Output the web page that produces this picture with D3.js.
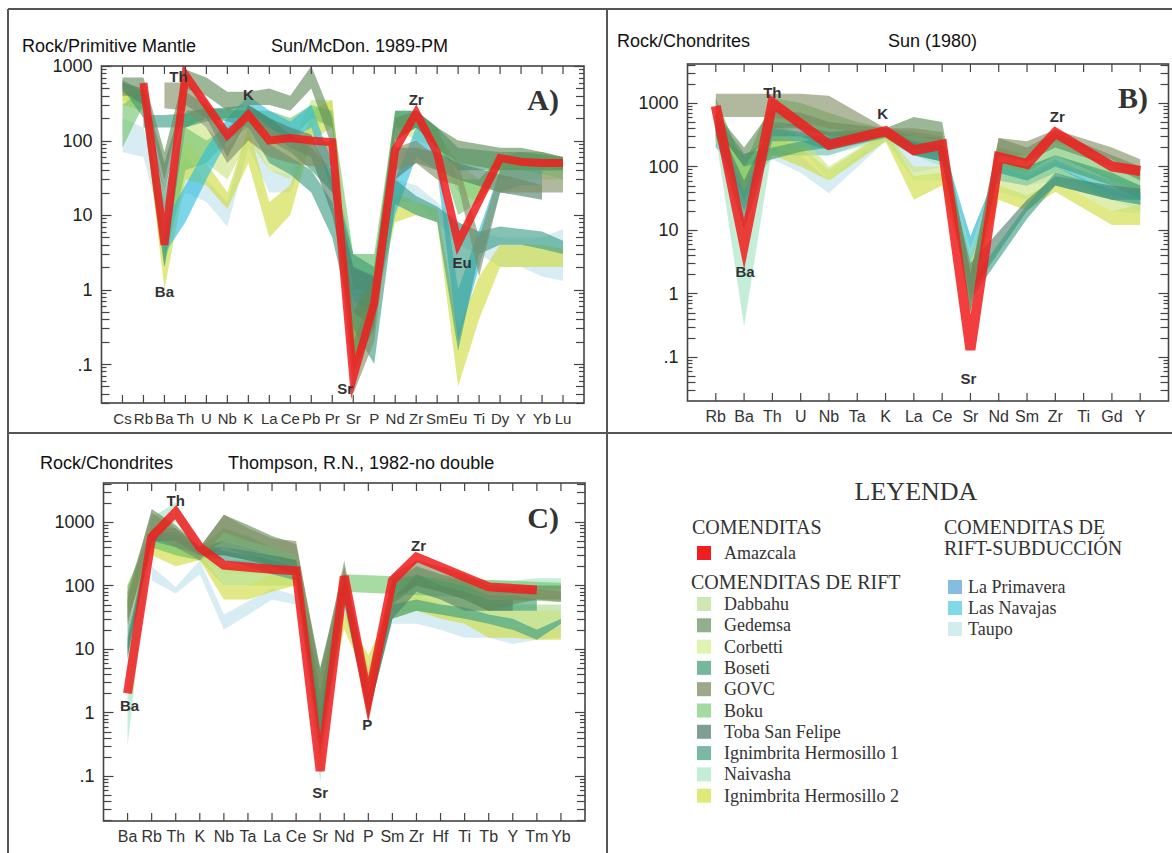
<!DOCTYPE html>
<html>
<head>
<meta charset="utf-8">
<script src="https://cdn.jsdelivr.net/npm/d3@7"></script>
<style>
  body { margin: 0; background: #fff; }
  svg { display: block; }
</style>
</head>
<body>
<svg id="chart" width="1172" height="853"></svg>
<script>
const _ = null; // element not plotted for that group

const groupNames = ["Dabbahu", "Gedemsa", "Corbetti", "Boseti", "GOVC", "Boku", "Toba San Felipe",
  "Ignimbrita Hermosillo 1", "Naivasha", "Ignimbrita Hermosillo 2", "La Primavera", "Las Navajas", "Taupo"];
const swatchColors = ["#cde8b2", "#8fb08a", "#def5b2", "#76b89c", "#9ca888", "#a3dca0", "#7d9e90",
  "#7ab8a8", "#c3eed6", "#dfe878", "#85bde0", "#80d8ea", "#d2ecf0"];
const bandColors = ["#a8d88a", "#5f8a58", "#c8e480", "#3f9c70", "#7f8c62", "#72c46c", "#4f8068",
  "#3a9c84", "#a2e4c0", "#cfdc3c", "#5aa2d0", "#2cbcdc", "#bee2ec"];
const amazcalaColor = "#f01e1e";

// ---- A) Sun/McDon. 1989 primitive mantle
const elementsA = ["Cs", "Rb", "Ba", "Th", "U", "Nb", "K", "La", "Ce", "Pb", "Pr", "Sr", "P", "Nd", "Zr", "Sm", "Eu", "Ti", "Dy", "Y", "Yb", "Lu"];
const amazcalaA = [_, 590, 4, 760, _, 118, 220, 100, 108, 100, 95, 0.067, 0.66, 75, 235, 68, 4.2, _, 58, 52, 50, 50];
const bandsA = [
  [12, [70, 60, 5, 20, 15, 7, 80, 20, 20, 100, 30, 1, 1, 15, 15, 8, 4, 3, 2, 2, 1.5, 1.3],
       [200, 150, 15, 60, 30, 15, 150, 40, 35, 200, 60, 3, 3, 30, 25, 15, 8, 6, 5, 5, 5, 6.5]],
  [2, [350, 300, 2, 100, 50, 30, 100, 40, 30, 150, 200, 0.1, 0.5, 150, 100, 80, 20, 15, 30, 30, 30, 30],
      [500, 450, 4, 250, 150, 80, 200, 100, 80, 350, 350, 0.5, 2, 250, 200, 130, 50, 30, 60, 60, 60, 60]],
  [9, [300, 250, 1, 30, 25, 12, 50, 5, 10, 100, 150, 0.1, 0.5, 8, 10, 8, 0.05, 0.4, 2, 2, 2, 2],
      [450, 400, 2.5, 100, 50, 20, 150, 15, 25, 250, 350, 0.5, 1.5, 20, 15, 12, 0.3, 1.5, 4, 4, 4, 3.5]],
  [5, [80, 300, 2, 40, 50, 100, 150, 150, 100, 200, 150, 1, 1, 150, 150, 80, 10, 15, 40, 40, 40, 40],
      [300, 500, 5, 150, 100, 150, 250, 250, 200, 300, 250, 3, 3, 250, 250, 150, 30, 30, 60, 70, 70, 60]],
  [11, [_, _, 3, 8, 30, 100, 250, 150, 100, 150, 20, 0.7, 0.5, 10, 60, 40, 0.2, _, 20, 25, 25, _],
       [_, _, 8, 25, 80, 200, 400, 250, 180, 300, 50, 2, 1.5, 30, 150, 80, 1, _, 40, 40, 40, _]],
  [7, [_, 150, 150, 150, 200, 180, 150, 50, 35, 20, 5, 0.3, 0.1, 14, 10, 8, 0.15, 3, 4, 4, 3.5, 3],
      [_, 220, 220, 230, 280, 260, 250, 90, 60, 40, 15, 1, 0.5, 30, 18, 13, 8, 6, 7, 6.5, 6, 4.5]],
  [3, [500, 200, 2, 150, 180, 200, 200, 100, 70, 40, 20, 1, 0.5, 100, 150, 80, 40, _, 40, 40, 40, 40],
      [650, 450, 20, 250, 260, 280, 300, 200, 120, 80, 40, 3, 2, 250, 250, 150, 80, _, 70, 70, 65, 60]],
  [6, [450, 300, 20, 300, 200, 60, 200, 120, 80, 60, 10, 0.5, 0.3, 30, 50, 40, 30, _, 20, 18, 16, _],
      [600, 500, 50, 450, 300, 100, 300, 200, 150, 120, 30, 2, 1.5, 80, 80, 70, 50, _, 35, 30, 25, _]],
  [4, [_, _, 270, 250, 150, 50, 100, 60, 50, 45, 45, 0.04, 0.2, 40, 50, 30, 25, 1.5, 20, 20, 20, 20],
      [_, _, 600, 600, 350, 120, 250, 150, 100, 90, 100, 0.2, 1, 80, 100, 60, 50, 5, 40, 40, 35, 30]],
  [1, [400, 400, 30, 500, 400, 250, 300, 300, 250, 500, 80, 0.08, 0.3, 100, 150, 80, 50, _, 40, 40, 35, 30],
      [700, 700, 70, 900, 700, 450, 450, 500, 400, 1000, 200, 0.5, 1.5, 200, 250, 150, 100, _, 80, 80, 70, 60]]
];
const tagsA = [["Th", 730, -7], ["K", 410, 0], ["Zr", 350, 0], ["Ba", 0.95, 0], ["Sr", 0.047, -8], ["Eu", 2.27, 4]];

// ---- B) Sun (1980) chondrites
const elementsB = ["Rb", "Ba", "Th", "U", "Nb", "Ta", "K", "La", "Ce", "Sr", "Nd", "Sm", "Zr", "Ti", "Gd", "Y"];
const amazcalaB = [900, 6, 1000, _, 220, _, 360, 180, 220, 0.13, 140, 110, 340, _, 100, 85];
const bandsB = [
  [12, [200, 50, 130, 80, 38, _, 250, 80, 100, 2, 60, 50, 60, _, 30, 20],
       [400, 150, 250, 150, 60, _, 350, 150, 150, 8, 100, 80, 100, _, 50, 40]],
  [10, [250, 30, 150, 150, 150, _, 300, 150, 150, 1, 60, 50, 80, _, 40, 25],
       [500, 80, 300, 250, 220, _, 400, 250, 220, 4, 100, 70, 120, _, 60, 40]],
  [11, [200, 80, 200, 200, 200, _, 300, 150, 150, 3, 60, 50, 80, _, 30, 25],
       [350, 150, 300, 300, 300, _, 400, 250, 250, 8, 100, 80, 130, _, 50, 35]],
  [8, [300, 0.3, 200, 150, 150, 200, 250, 150, 100, 1, 80, 60, 100, _, 40, 30],
      [1200, 100, 400, 300, 250, 300, 350, 250, 200, 5, 120, 100, 150, _, 70, 50]],
  [9, [250, 40, 150, 100, 60, _, 250, 30, 50, 1, 30, 20, 40, _, 12, 12],
      [400, 90, 400, 200, 90, _, 350, 70, 80, 3, 50, 35, 60, _, 20, 25]],
  [2, [300, 50, 300, 200, 60, _, 250, 60, 60, 1, 40, 30, 60, _, 20, 18],
      [500, 100, 500, 300, 100, _, 350, 100, 100, 3, 80, 60, 100, _, 35, 30]],
  [5, [300, 30, 500, 400, 300, 300, 300, 200, 150, 0.5, 100, 80, 150, _, 60, 40],
      [1200, 100, 1200, 1000, 700, 500, 400, 350, 300, 2, 200, 150, 300, _, 100, 80]],
  [3, [400, 100, 130, 170, 200, 250, 300, 200, 180, 0.8, 80, 60, 100, _, 50, 30],
      [650, 160, 200, 250, 280, 320, 400, 300, 280, 2, 120, 100, 150, _, 80, 50]],
  [6, [350, 20, 300, 300, 200, _, 300, 150, 120, 1, _, 20, 50, _, 30, 30],
      [550, 60, 500, 450, 350, _, 400, 250, 200, 3, _, 30, 70, _, 50, 45]],
  [7, [300, 10, 250, 250, 180, _, 280, 150, 120, 0.8, _, 15, 50, _, 30, 25],
      [500, 40, 400, 350, 260, _, 380, 250, 200, 1.5, _, 25, 80, _, 45, 40]],
  [1, [400, 100, 400, 400, 300, _, 300, 300, 250, 0.5, 150, 120, 200, _, 100, 60],
      [700, 200, 800, 700, 500, _, 400, 600, 500, 2, 280, 200, 350, _, 150, 100]],
  [4, [600, 600, 600, 500, 400, _, 300, 250, 200, 0.5, 150, 150, 250, _, 130, 70],
      [1400, 1400, 1400, 1400, 1300, _, 400, 400, 350, 2, 280, 250, 380, _, 200, 130]]
];
const tagsB = [["Th", 1470, 0], ["K", 670, -3], ["Zr", 616, 2], ["Ba", 2.2, 1], ["Sr", 0.046, -2]];

// ---- C) Thompson, R.N., 1982 chondrites
const elementsC = ["Ba", "Rb", "Th", "K", "Nb", "Ta", "La", "Ce", "Sr", "Nd", "P", "Sm", "Zr", "Hf", "Ti", "Tb", "Y", "Tm", "Yb"];
const amazcalaC = [2, 580, 1430, 400, 210, _, 180, 170, 0.12, 140, 1.6, 120, 280, _, _, 95, 90, 85, _];
const bandsC = [
  [12, [_, 120, 75, 150, 20, _, 60, 50, 1, 40, 1, 25, 25, 20, 15, 15, 12, 14, 15],
       [_, 200, 95, 250, 35, _, 90, 70, 5, 80, 3, 40, 45, 35, 30, 25, 22, 22, 22]],
  [8, [0.3, 600, 1000, 300, 150, 150, 150, 150, 0.08, 100, 1, 50, 100, 80, 80, 70, 80, 90, 90],
      [10, 1200, 2000, 450, 250, 250, 200, 200, 2, 200, 3, 100, 200, 150, 130, 120, 120, 130, 130]],
  [0, [50, 400, 300, 250, 100, 100, 100, 100, 0.5, 60, 2, 40, 40, 35, 30, 25, 25, 20, 20],
      [100, 700, 500, 350, 200, 200, 200, 150, 3, 120, 5, 70, 80, 70, 60, 50, 50, 50, 50]],
  [9, [30, 300, 200, 250, 60, 60, 80, 100, 0.5, 20, 3, 30, 40, 30, 25, 15, 15, 14, 14],
      [60, 500, 400, 350, 100, 100, 150, 150, 3, 40, 8, 50, 70, 50, 40, 25, 25, 20, 20]],
  [2, [40, 400, 300, 300, 100, 100, 100, 100, 1, 50, 2, 50, 50, 40, 30, 25, 20, 20, 20],
      [100, 600, 500, 400, 200, 200, 200, 200, 3, 100, 5, 100, 100, 80, 60, 50, 40, 40, 40]],
  [5, [30, 400, 300, 250, 400, 300, 200, 150, 1, 80, _, _, _, _, _, _, _, _, 55],
      [100, 800, 600, 400, 800, 600, 400, 300, 5, 150, _, _, _, _, _, _, _, _, 110]],
  [7, [7, 500, 500, 300, 250, 200, 150, 120, 0.2, 50, 0.9, 30, 40, 35, 30, 25, 20, 14, 25],
      [12, 700, 700, 400, 350, 300, 250, 200, 1, 100, 1.5, 50, 60, 50, 45, 35, 30, 20, 30]],
  [3, [10, 500, 400, 300, 300, 250, 200, 150, 0.5, 80, 1, 60, 100, 80, 60, 40, 40, 40, _],
      [20, 700, 600, 400, 400, 350, 300, 250, 2, 150, 2, 120, 150, 120, 100, 70, 70, 60, _]],
  [6, [8, 500, 500, 300, 300, 250, 200, 150, 0.3, 60, 0.9, 30, 80, 60, 40, 40, 40, _, _],
      [15, 800, 800, 400, 500, 400, 300, 250, 2, 150, 2, 60, 150, 100, 80, 60, 60, _, _]],
  [1, [20, 800, 500, 300, 500, 400, 300, 200, 0.5, 100, 0.8, 50, 100, 80, 60, 40, 50, 60, 60],
      [60, 1600, 900, 400, 1300, 900, 600, 450, 5, 200, 3, 120, 200, 150, 120, 80, 100, 100, 100]],
  [4, [25, 600, 400, 250, 700, 500, 400, 300, 1, 150, 0.8, 100, 150, 120, 100, 60, 60, 60, 55],
      [80, 1400, 800, 400, 1300, 800, 550, 500, 4, 250, 2, 150, 250, 200, 150, 100, 90, 90, 80]]
];
const tagsC = [["Th", 2140, 0], ["Zr", 430, 2], ["Ba", 1.3, 2], ["Sr", 0.055, 0], ["P", 0.64, -1]];

const tickValues = [0.1, 1, 10, 100, 1000];
const tickLabels = [".1", "1", "10", "100", "1000"];

const svg = d3.select("#chart");
const sans = "'Liberation Sans', Arial, sans-serif";
const serif = "'Liberation Serif', 'Times New Roman', serif";

function drawPanel(p, elements, bands, amazcala, tags) {
  const g = svg.append("g");
  const x = d3.scalePoint().domain(elements).range([p.left, p.right]).padding(1);
  const y = d3.scaleLog().domain([p.yMin, p.yMax]).range([p.bottom, p.top]);

  g.append("clipPath").attr("id", p.id)
    .append("rect")
    .attr("x", p.left).attr("y", p.top)
    .attr("width", p.right - p.left).attr("height", p.bottom - p.top);

  const plot = g.append("g").attr("clip-path", `url(#${p.id})`);

  const area = d3.area().x((d) => x(d.e)).y0((d) => y(d.lo)).y1((d) => y(d.hi));
  bands.forEach(([gi, lo, hi]) => {
    const pts = elements.map((e, i) => ({ e, lo: lo[i], hi: hi[i] })).filter((d) => d.lo !== null);
    plot.append("path")
      .attr("class", "band")
      .attr("d", area(pts))
      .attr("fill", bandColors[gi])
      .attr("fill-opacity", 0.62);
  });

  // element tags inside the plot
  g.selectAll("text.tag")
    .data(tags)
    .enter()
    .append("text")
    .attr("class", "tag")
    .attr("x", (d) => x(d[0]) + d[2])
    .attr("y", (d) => y(d[1]))
    .attr("dy", "0.36em")
    .attr("text-anchor", "middle")
    .attr("font-family", sans)
    .attr("font-weight", "bold")
    .attr("font-size", 15)
    .attr("fill", "#333")
    .text((d) => d[0]);

  const pts = elements.map((e, i) => ({ e, v: amazcala[i] })).filter((d) => d.v !== null);
  plot.append("path")
    .attr("d", d3.line().x((d) => x(d.e)).y((d) => y(d.v))(pts))
    .attr("fill", "none")
    .attr("stroke", amazcalaColor)
    .attr("stroke-opacity", 0.86)
    .attr("stroke-width", p.lineWidth)
    .attr("stroke-linejoin", "miter")
    .attr("stroke-miterlimit", 6);

  // log ticks on left and right sides
  const minor = [];
  for (let e = -2; e <= 3; e++) {
    for (let m = 1; m <= 9; m++) {
      const v = m * Math.pow(10, e);
      if (v >= p.yMin && v <= p.yMax) minor.push({ v, len: m === 1 ? 10 : m <= 5 ? 8 : 5 });
    }
  }
  const tk = g.append("g").attr("stroke", "#444").attr("stroke-width", 1.2);
  minor.forEach((t) => {
    const yy = Math.round(y(t.v)) + 0.5;
    tk.append("line").attr("x1", p.left).attr("x2", p.left + t.len).attr("y1", yy).attr("y2", yy);
    tk.append("line").attr("x1", p.right).attr("x2", p.right - t.len).attr("y1", yy).attr("y2", yy);
  });
  elements.forEach((e) => {
    const xx = x(e);
    tk.append("line").attr("x1", xx).attr("x2", xx).attr("y1", p.top).attr("y2", p.top + 8);
    tk.append("line").attr("x1", xx).attr("x2", xx).attr("y1", p.bottom).attr("y2", p.bottom - 8);
  });

  g.append("rect")
    .attr("x", p.left).attr("y", p.top)
    .attr("width", p.right - p.left).attr("height", p.bottom - p.top)
    .attr("fill", "none").attr("stroke", "#444").attr("stroke-width", 1.6);

  g.selectAll("text.ylab")
    .data(tickValues)
    .enter()
    .append("text")
    .attr("class", "ylab")
    .attr("x", p.left - 9)
    .attr("y", (d) => y(d))
    .attr("dy", "0.36em")
    .attr("text-anchor", "end")
    .attr("font-family", sans)
    .attr("font-size", 18)
    .attr("fill", "#222")
    .text((d, i) => tickLabels[i]);

  g.selectAll("text.xlab")
    .data(elements)
    .enter()
    .append("text")
    .attr("class", "xlab")
    .attr("x", (d) => x(d))
    .attr("y", p.bottom + 21)
    .attr("text-anchor", "middle")
    .attr("font-family", sans)
    .attr("font-size", p.xFont)
    .attr("fill", "#333")
    .text((d) => d);

  g.append("text").attr("x", p.titleX).attr("y", p.titleY)
    .attr("font-family", sans).attr("font-size", 18).attr("fill", "#111").text(p.yTitle);
  g.append("text").attr("x", p.refX).attr("y", p.titleY)
    .attr("font-family", sans).attr("font-size", 18).attr("fill", "#111").text(p.refTitle);
  g.append("text").attr("x", p.letterX).attr("y", p.letterY)
    .attr("text-anchor", "end")
    .attr("font-family", serif).attr("font-weight", "bold").attr("font-size", 30)
    .attr("fill", "#333").text(p.letter);
}

drawPanel({ id: "clipA", left: 101.5, right: 584, top: 66, bottom: 403, yMin: Math.pow(10, -1.523), yMax: 1000,
  lineWidth: 8, xFont: 15, yTitle: "Rock/Primitive Mantle", refTitle: "Sun/McDon. 1989-PM", titleX: 22, refX: 271, titleY: 52,
  letter: "A)", letterX: 559, letterY: 110 }, elementsA, bandsA, amazcalaA, tagsA);

drawPanel({ id: "clipB", left: 687.5, right: 1168.5, top: 64, bottom: 401, yMin: Math.pow(10, -1.693), yMax: Math.pow(10, 3.614),
  lineWidth: 10, xFont: 16, yTitle: "Rock/Chondrites", refTitle: "Sun (1980)", titleX: 617, refX: 888, titleY: 47,
  letter: "B)", letterX: 1148, letterY: 108 }, elementsB, bandsB, amazcalaB, tagsB);

drawPanel({ id: "clipC", left: 103.5, right: 585, top: 483, bottom: 821, yMin: Math.pow(10, -1.709), yMax: Math.pow(10, 3.614),
  lineWidth: 9, xFont: 16, yTitle: "Rock/Chondrites", refTitle: "Thompson, R.N., 1982-no double", titleX: 40, refX: 228, titleY: 469,
  letter: "C)", letterX: 559, letterY: 528 }, elementsC, bandsC, amazcalaC, tagsC);

// ---- legend
const rift = [0, 1, 2, 3, 4, 5, 6, 7, 8, 9];
const riftSubduction = [10, 11, 12];
const lg = svg.append("g").attr("font-family", serif).attr("fill", "#333");

lg.append("text").attr("x", 916).attr("y", 500).attr("text-anchor", "middle").attr("font-size", 26).text("LEYENDA");
lg.append("text").attr("x", 692).attr("y", 534).attr("font-size", 20).text("COMENDITAS");
lg.append("rect").attr("x", 697).attr("y", 546).attr("width", 14).attr("height", 14).attr("fill", amazcalaColor);
lg.append("text").attr("x", 724).attr("y", 559).attr("font-size", 18).text("Amazcala");
lg.append("text").attr("x", 691).attr("y", 589).attr("font-size", 20).text("COMENDITAS DE RIFT");

rift.forEach((gi, i) => {
  const base = 610 + i * 21.3;
  lg.append("rect").attr("x", 697).attr("y", base - 13).attr("width", 14).attr("height", 14).attr("fill", swatchColors[gi]);
  lg.append("text").attr("x", 724).attr("y", base).attr("font-size", 18).text(groupNames[gi]);
});

lg.append("text").attr("x", 944).attr("y", 534).attr("font-size", 20).text("COMENDITAS DE");
lg.append("text").attr("x", 944).attr("y", 555).attr("font-size", 20).text("RIFT-SUBDUCCIÓN");
riftSubduction.forEach((gi, i) => {
  const base = 593 + i * 21;
  lg.append("rect").attr("x", 948).attr("y", base - 13).attr("width", 14).attr("height", 14).attr("fill", swatchColors[gi]);
  lg.append("text").attr("x", 968).attr("y", base).attr("font-size", 18).text(groupNames[gi]);
});

// ---- frame lines between panels
const frame = svg.append("g").attr("stroke", "#555").attr("stroke-width", 2);
frame.append("line").attr("x1", 8).attr("x2", 1172).attr("y1", 9).attr("y2", 9);
frame.append("line").attr("x1", 8).attr("x2", 8).attr("y1", 9).attr("y2", 853);
frame.append("line").attr("x1", 607).attr("x2", 607).attr("y1", 9).attr("y2", 853);
frame.append("line").attr("x1", 8).attr("x2", 1172).attr("y1", 433).attr("y2", 433);
</script>
</body>
</html>
